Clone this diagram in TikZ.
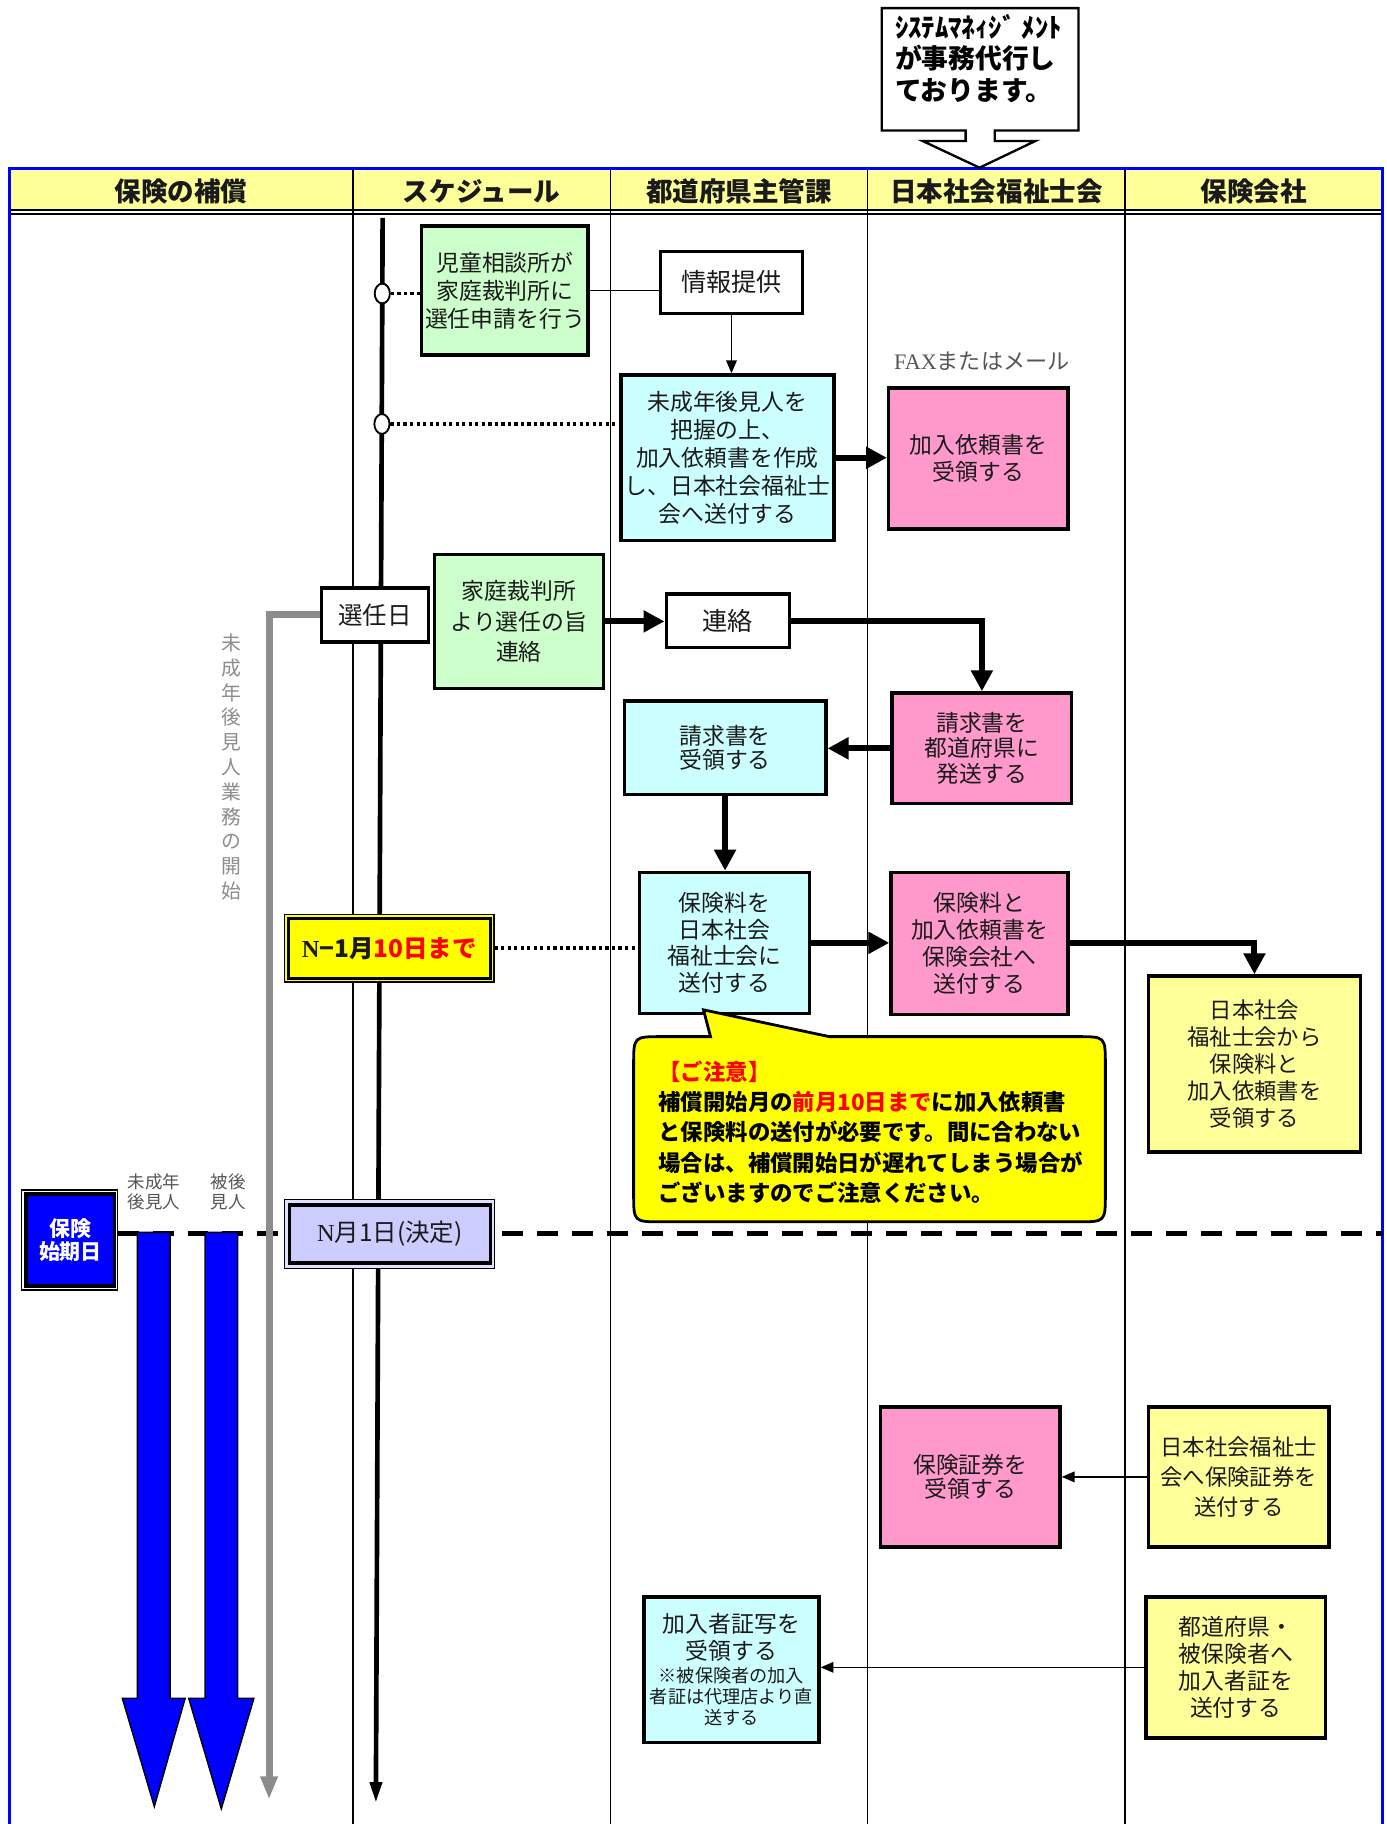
\documentclass[tikz,border=0pt]{standalone}
\usepackage{fontspec}
\setmainfont{Noto Sans CJK JP}
\newfontfamily\lat{Liberation Serif}
\usetikzlibrary{arrows.meta,shapes.geometric}
\definecolor{hdr}{HTML}{FFFF99}
\definecolor{grn}{HTML}{CCFFCC}
\definecolor{cyn}{HTML}{CCFFFF}
\definecolor{pnk}{HTML}{FF99CC}
\definecolor{ylw}{HTML}{FFFF99}
\definecolor{yel}{HTML}{FFFF00}
\definecolor{lav}{HTML}{CCCCFF}
\definecolor{gry}{HTML}{8C8C8C}
\definecolor{txt}{HTML}{1A1A1A}
\definecolor{lbl}{HTML}{555555}
\definecolor{bluebox}{HTML}{0000FF}
\newcommand{\mkbox}[7]{\node[#6, minimum width={(#4-#2)*0.5pt}, minimum height={(#5-#3)*0.5pt}] (#1) at ({(#2+#4)/2},{(#3+#5)/2}) {#7};}
\begin{document}
\begin{tikzpicture}[x=0.5pt,y=-0.5pt,
  box/.style={draw=black, line width=1.5pt, align=center, inner sep=1pt, text=txt, font=\fontsize{9.8pt}{12pt}\selectfont},
  outerbox/.style={draw=black, line width=0.6pt, inner sep=0pt},
  fatarrow/.style={line width=2.6pt, -{Triangle[length=9pt,width=9pt]}},
  thinarrow/.style={line width=0.7pt, -{Triangle[length=5.5pt,width=4.5pt]}},
  hdrtext/.style={font=\fontsize{11.4pt}{13pt}\selectfont\bfseries, text=txt},
  dots/.style={line width=1.6pt, dash pattern=on 1.4pt off 1.4pt},
]
\useasboundingbox (0,0) rectangle (1190,1566);
% ---------- frame and header ----------
\fill[hdr] (8,145) rectangle (1187,180);
\foreach \xx in {303,524,745,966} \draw[line width=0.6pt] (\xx,145) -- (\xx,1570);
\draw[line width=0.9pt] (8,180.5) -- (1187,180.5);
\draw[line width=0.9pt] (8,183.5) -- (1187,183.5);
\draw[blue, line width=1.3pt] (8,1570) -- (8,145) -- (1187,145) -- (1187,1570);
\node[hdrtext] (h1) at (155.5,164) {保険の補償};
\node[hdrtext] (h2) at (413.5,164) {スケジュール};
\node[hdrtext] (h3) at (634.5,164) {都道府県主管課};
\node[hdrtext] (h4) at (855.5,164) {日本社会福祉士会};
\node[hdrtext] (h5) at (1076.5,164) {保険会社};
% ---------- top callout ----------
\filldraw[fill=white, line width=1pt] (757,7) -- (926,7) -- (926,112) -- (854,112) -- (854,121) -- (889,121) -- (841,144) -- (792,121) -- (829,121) -- (829,112) -- (757,112) -- cycle;
\node[anchor=west, align=left, inner sep=0pt, font=\fontsize{11.5pt}{13.5pt}\selectfont\bfseries] (sm) at (768,50) {ｼｽﾃﾑﾏﾈｨｼﾞ ﾒﾝﾄ\\が事務代行し\\ております。};
% ---------- timeline, dashed line ----------
\coordinate (tl0) at (328.5,187);
\coordinate (tl1) at (322.7,1548);
\draw[line width=2pt, -{Triangle[length=9pt,width=5pt]}] (tl0) -- (tl1);
\coordinate (ds0) at (101,1059);
\coordinate (ds1) at (1187,1059);
\draw[line width=1.8pt, dash pattern=on 9pt off 6pt] (ds0) -- (ds1);
% ---------- big blue arrows ----------
\filldraw[fill=bluebox, draw=black, line width=0.6pt] (118,1058) -- (146,1058) -- (146,1458) -- (159,1458) -- (132.5,1551) -- (105,1458) -- (118,1458) -- cycle;
\filldraw[fill=bluebox, draw=black, line width=0.6pt] (176,1058) -- (204,1058) -- (204,1458) -- (218,1458) -- (190,1553) -- (162,1458) -- (176,1458) -- cycle;
\node[align=center, text=lbl, inner sep=0pt, font=\fontsize{7.5pt}{8.5pt}\selectfont] (lb1) at (132,1023) {未成年\\後見人};
\node[align=center, text=lbl, inner sep=0pt, font=\fontsize{7.5pt}{8.5pt}\selectfont] (lb2) at (196,1023) {被後\\見人};
\node[align=center, text=gry, inner sep=0pt, font=\fontsize{8.5pt}{10.65pt}\selectfont] (vl) at (199,658.5) {未\\成\\年\\後\\見\\人\\業\\務\\の\\開\\始};
% ---------- boxes ----------
\mkbox{g1}{362}{194}{505}{305}{box, fill=grn}{児童相談所が\\家庭裁判所に\\選任申請を行う}
\mkbox{info}{567}{216}{689}{269}{box, fill=white, font=\fontsize{10.8pt}{13pt}\selectfont}{情報提供}
\mkbox{c1}{533}{322}{716}{464}{box, fill=cyn}{未成年後見人を\\把握の上、\\加入依頼書を作成\\し、日本社会福祉士\\会へ送付する}
\node[text=lbl, inner sep=0pt, font=\fontsize{9.5pt}{11pt}\selectfont] (fax) at (843,310) {{\lat FAX}またはメール};
\mkbox{p1}{763}{333}{917}{454}{box, fill=pnk}{加入依頼書を\\受領する}
\mkbox{sen}{276}{505}{368}{551}{box, fill=white, font=\fontsize{10.5pt}{12pt}\selectfont}{選任日}
\mkbox{g2}{373}{476}{518}{591}{box, fill=grn, font=\fontsize{9.8pt}{13pt}\selectfont}{家庭裁判所\\より選任の旨\\連絡}
\mkbox{ren}{572}{510}{678}{556}{box, fill=white, font=\fontsize{10.8pt}{12pt}\selectfont}{連絡}
\mkbox{p2}{766}{595}{920}{690}{box, fill=pnk, font=\fontsize{9.8pt}{11pt}\selectfont}{請求書を\\都道府県に\\発送する}
\mkbox{c2}{536}{602}{709}{682}{box, fill=cyn, font=\fontsize{9.8pt}{10.5pt}\selectfont}{請求書を\\受領する}
\mkbox{c3}{549}{749}{695}{870}{box, fill=cyn, font=\fontsize{9.8pt}{11.5pt}\selectfont}{保険料を\\日本社会\\福祉士会に\\送付する}
\mkbox{p3}{765}{749}{917}{871}{box, fill=pnk, font=\fontsize{9.8pt}{11.5pt}\selectfont}{保険料と\\加入依頼書を\\保険会社へ\\送付する}
\mkbox{y1}{986}{838}{1168}{989}{box, fill=ylw, font=\fontsize{9.6pt}{11.5pt}\selectfont}{日本社会\\福祉士会から\\保険料と\\加入依頼書を\\受領する}
% N-1 box
\mkbox{nbo}{244}{785}{424}{843}{outerbox, fill=yel}{}
\mkbox{nb}{247.5}{788.5}{421}{840}{box, fill=yel, font=\fontsize{10.5pt}{12pt}\selectfont\bfseries}{{\lat N}−1月\textcolor{red}{10日まで}}
% start-date box
\mkbox{hko}{18.5}{1021.5}{101}{1107.5}{outerbox, fill=white}{}
\mkbox{hk}{22.5}{1025}{98.5}{1104}{box, fill=bluebox, text=white, font=\fontsize{9pt}{10pt}\selectfont\bfseries}{保険\\始期日}
% N month box
\mkbox{ndo}{244}{1030}{424.5}{1089}{outerbox, fill=lav!60}{}
\mkbox{nd}{248.5}{1034.5}{421}{1084.5}{box, fill=lav, font=\fontsize{10.5pt}{12pt}\selectfont}{{\lat N}月1日(決定)}
\mkbox{p4}{756}{1208}{910}{1328}{box, fill=pnk, font=\fontsize{9.8pt}{10pt}\selectfont}{保険証券を\\受領する}
\mkbox{y2}{986}{1208}{1141}{1328}{box, fill=ylw, font=\fontsize{9.6pt}{13pt}\selectfont}{日本社会福祉士\\会へ保険証券を\\送付する}
\mkbox{c4}{553}{1371}{703}{1496}{box, fill=cyn, font=\fontsize{9.8pt}{12pt}\selectfont}{加入者証写を\\[-0.5pt]受領する\\[-2pt]{\fontsize{7.8pt}{9pt}\selectfont ※被保険者の加入}\\[-3pt]{\fontsize{7.8pt}{9pt}\selectfont 者証は代理店より直}\\[-3pt]{\fontsize{7.8pt}{9pt}\selectfont 送する}}
\mkbox{y3}{984}{1371}{1138}{1492}{box, fill=ylw, font=\fontsize{9.8pt}{11.7pt}\selectfont}{都道府県・\\被保険者へ\\加入者証を\\送付する}
% ---------- timeline markers ----------
\node[ellipse, draw, line width=0.8pt, fill=white, minimum width=6.5pt, minimum height=8.5pt, inner sep=0pt] (e1) at (328.2,252) {};
\node[ellipse, draw, line width=0.8pt, fill=white, minimum width=6.5pt, minimum height=8.5pt, inner sep=0pt] (e2) at (327.9,364) {};
% ---------- connectors ----------
\draw[dots] (e1.east) -- (e1.east -| g1.west);
\draw[dots] (e2.east) -- (e2.east -| c1.west);
\draw[line width=0.7pt] (g1.east) -- (g1.east -| info.west);
\draw[thinarrow] (info.south) -- (info.south |- c1.north);
\draw[fatarrow] (c1.east) -- (c1.east -| p1.west);
\draw[fatarrow] (g2.east) -- (g2.east -| ren.west);
\draw[fatarrow] (ren.east) -| (p2.north);
\draw[fatarrow] (p2.west) -- (p2.west -| c2.east);
\draw[fatarrow] (c2.south) -- (c2.south |- c3.north);
\draw[fatarrow] (c3.east) -- (c3.east -| p3.west);
\draw[fatarrow] (p3.east) -| (y1.north);
\coordinate (gend) at (231,1545);
\draw[gry, line width=3pt, -{Triangle[length=10pt,width=7pt]}] (sen.west) -| (gend);
\draw[dots] (nbo.east) -- (nbo.east -| c3.west);
\draw[thinarrow] (y2.west) -- (y2.west -| p4.east);
\draw[thinarrow] (y3.west) -- (y3.west -| c4.east);
% ---------- caution callout ----------
\filldraw[fill=yel, line width=1.2pt] (568,890) -- (610,890) -- (604,867) -- (712,890) -- (925,890) .. controls (949,890) .. (949,914) -- (949,1025) .. controls (949,1049) .. (925,1049) -- (568,1049) .. controls (544,1049) .. (544,1025) -- (544,914) .. controls (544,890) .. (568,890) -- cycle;
\node[anchor=west, align=left, inner sep=0pt, text=black, font=\fontsize{9.6pt}{13pt}\selectfont\bfseries] (note) at (565,972) {\textcolor{red}{【ご注意】}\\補償開始月の\textcolor{red}{前月10日まで}に加入依頼書\\と保険料の送付が必要です。間に合わない\\場合は、補償開始日が遅れてしまう場合が\\ございますのでご注意ください。};
\end{tikzpicture}
\end{document}
